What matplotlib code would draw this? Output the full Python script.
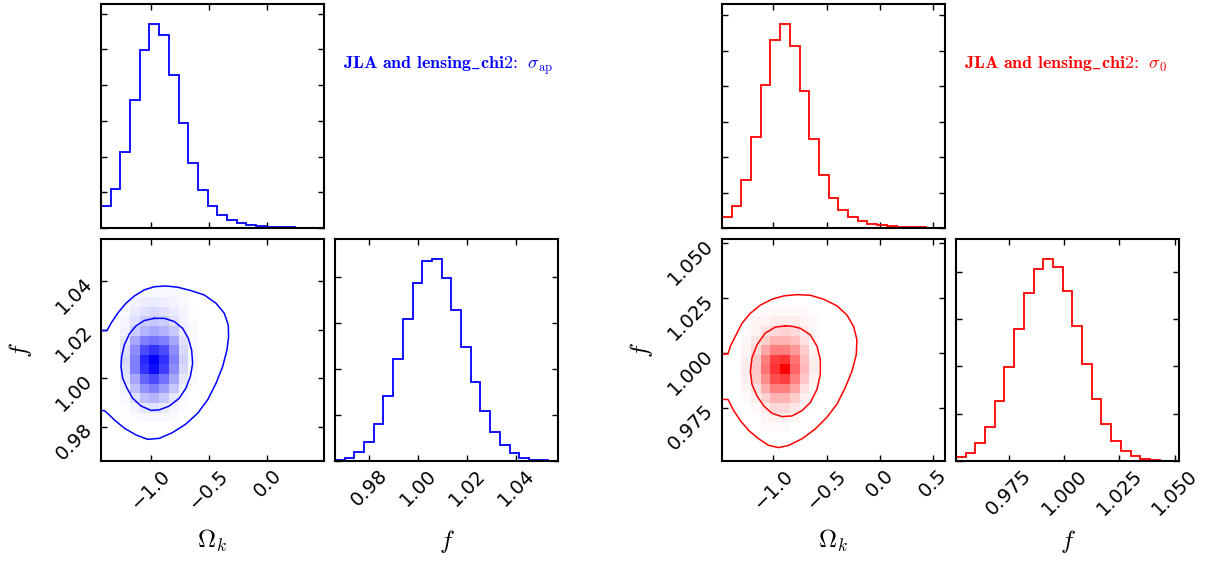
import numpy as np
import matplotlib.pyplot as plt
from matplotlib.colors import LinearSegmentedColormap
from matplotlib.ticker import MultipleLocator, NullFormatter

plt.rcParams['mathtext.fontset'] = 'cm'
plt.rcParams['font.family'] = 'DejaVu Sans'
plt.rcParams['font.size'] = 14

# ---- parameter ranges (23 bins each) ----
NBINS = 23
blue_ok_range = (-1.426, 0.486)
blue_f_range = (0.966, 1.0572)
red_ok_range = (-1.481, 0.610)
red_f_range = (0.951, 1.052)

# ---- 1D marginal counts ----
blue_ok_counts = [304, 551, 1065, 1790, 2486, 2850, 2696, 2136, 1463, 911, 537, 313,
                  187, 112, 70, 42, 23, 14, 9, 7, 6, 5, 4]
blue_f_counts = [29, 72, 196, 413, 804, 1406, 2203, 3080, 3870, 4348, 4377, 3978,
                 3283, 2464, 1710, 1094, 638, 348, 167, 72, 29, 11, 4]
red_ok_counts = [156, 311, 675, 1278, 2019, 2656, 2873, 2561, 1929, 1250, 745, 429,
                 250, 151, 99, 61, 42, 28, 19, 14, 9, 7, 5]
red_f_counts = [85, 169, 373, 725, 1275, 1993, 2796, 3549, 4056, 4261, 4099, 3592,
                2852, 2042, 1317, 782, 423, 211, 99, 42, 14, 7, 4]

# ---- 2D density cells (rows listed top to bottom) ----
# blue block: columns 2..9, rows 17..4 counted from the bottom
blue_col0, blue_row_top = 2, 17
blue_cells = [
    [0.00, 0.02, 0.03, 0.03, 0.03, 0.03, 0.02, 0.00],
    [0.02, 0.05, 0.07, 0.08, 0.07, 0.05, 0.03, 0.00],
    [0.03, 0.08, 0.12, 0.15, 0.12, 0.08, 0.04, 0.01],
    [0.04, 0.12, 0.20, 0.22, 0.20, 0.12, 0.05, 0.02],
    [0.05, 0.20, 0.30, 0.35, 0.30, 0.22, 0.08, 0.02],
    [0.10, 0.35, 0.50, 0.55, 0.50, 0.35, 0.12, 0.03],
    [0.12, 0.45, 0.70, 0.80, 0.70, 0.45, 0.15, 0.03],
    [0.15, 0.50, 0.85, 1.00, 0.80, 0.50, 0.18, 0.04],
    [0.13, 0.50, 0.80, 0.95, 0.75, 0.45, 0.15, 0.03],
    [0.10, 0.35, 0.60, 0.70, 0.55, 0.35, 0.10, 0.02],
    [0.06, 0.25, 0.42, 0.50, 0.38, 0.22, 0.06, 0.01],
    [0.03, 0.12, 0.25, 0.30, 0.22, 0.10, 0.03, 0.00],
    [0.01, 0.05, 0.10, 0.12, 0.08, 0.04, 0.01, 0.00],
    [0.00, 0.02, 0.03, 0.03, 0.03, 0.02, 0.00, 0.00],
]
# red block: columns 2..9, rows 15..3 counted from the bottom
red_col0, red_row_top = 2, 15
red_cells = [
    [0.00, 0.00, 0.03, 0.03, 0.03, 0.03, 0.03, 0.00],
    [0.00, 0.05, 0.05, 0.08, 0.08, 0.08, 0.05, 0.03],
    [0.02, 0.05, 0.12, 0.15, 0.18, 0.15, 0.08, 0.03],
    [0.03, 0.10, 0.20, 0.30, 0.30, 0.25, 0.12, 0.04],
    [0.05, 0.15, 0.35, 0.50, 0.50, 0.40, 0.20, 0.05],
    [0.07, 0.20, 0.50, 0.75, 0.80, 0.55, 0.25, 0.07],
    [0.08, 0.22, 0.55, 0.80, 1.00, 0.60, 0.28, 0.07],
    [0.07, 0.20, 0.45, 0.70, 0.75, 0.50, 0.22, 0.05],
    [0.04, 0.12, 0.32, 0.50, 0.50, 0.35, 0.12, 0.03],
    [0.02, 0.07, 0.18, 0.30, 0.30, 0.20, 0.07, 0.02],
    [0.00, 0.03, 0.08, 0.15, 0.15, 0.10, 0.03, 0.00],
    [0.00, 0.00, 0.04, 0.06, 0.06, 0.04, 0.00, 0.00],
    [0.00, 0.00, 0.02, 0.02, 0.02, 0.00, 0.00, 0.00],
]

# ---- credible-region contours (Omega_k, f) ----
blue_inner_ok = [-0.969, -1.055, -1.126, -1.183, -1.226, -1.249, -1.2545, -1.240, -1.203,
                 -1.155, -1.083, -0.997, -0.926, -0.840, -0.755, -0.698, -0.660, -0.640,
                 -0.649, -0.6775, -0.726, -0.7975, -0.883]
blue_inner_f = [1.0246, 1.0237, 1.0215, 1.0182, 1.0137, 1.0089, 1.0048, 1.0000, 0.9959,
                0.9918, 0.9886, 0.9868, 0.9870, 0.9886, 0.9918, 0.9959, 1.0007, 1.0061,
                1.0116, 1.0164, 1.0205, 1.0233, 1.0246]
blue_outer_ok = [-1.426, -1.3745, -1.340, -1.283, -1.212, -1.140, -1.055, -0.969, -0.869,
                 -0.769, -0.655, -0.540, -0.440, -0.369, -0.335, -0.332, -0.346, -0.383,
                 -0.440, -0.512, -0.5975, -0.698, -0.812, -0.926, -1.026, -1.126, -1.226,
                 -1.312, -1.369, -1.397, -1.426]
blue_outer_f = [1.0196, 1.0196, 1.0226, 1.0267, 1.0308, 1.0338, 1.0363, 1.0376, 1.0379,
                1.0374, 1.0360, 1.0342, 1.0308, 1.0267, 1.0219, 1.0171, 1.0116, 1.0048,
                0.9979, 0.9911, 0.9856, 0.9812, 0.9777, 0.9753, 0.9749, 0.9767, 0.9795,
                0.9829, 0.9856, 0.9867, 0.9867]

red_inner_ok = [-0.887, -0.981, -1.075, -1.153, -1.200, -1.215, -1.200, -1.153, -1.090,
                -1.012, -0.918, -0.825, -0.731, -0.653, -0.590, -0.559, -0.559, -0.590,
                -0.653, -0.747, -0.825]
red_inner_f = [1.0125, 1.0119, 1.0092, 1.0039, 0.9979, 0.9919, 0.9859, 0.9806, 0.9761,
               0.9727, 0.9712, 0.9715, 0.9739, 0.9776, 0.9836, 0.9904, 0.9972, 1.0032,
               1.0084, 1.0114, 1.0123]
red_outer_ok = [-1.481, -1.425, -1.403, -1.356, -1.293, -1.215, -1.122, -1.012, -0.903,
                -0.778, -0.653, -0.528, -0.403, -0.309, -0.247, -0.216, -0.222, -0.262,
                -0.325, -0.403, -0.497, -0.606, -0.731, -0.856, -0.950, -1.043, -1.137,
                -1.231, -1.309, -1.371, -1.418, -1.425, -1.481]
red_outer_f = [0.9997, 0.9997, 1.0032, 1.0077, 1.0137, 1.0182, 1.0219, 1.0246, 1.0261,
               1.0267, 1.0264, 1.0246, 1.0216, 1.0174, 1.0122, 1.0062, 0.9994, 0.9919,
               0.9844, 0.9769, 0.9709, 0.9656, 0.9611, 0.9581, 0.9571, 0.9581, 0.9611,
               0.9649, 0.9694, 0.9739, 0.9784, 0.9790, 0.9790]

W, H = 1208, 561
fig = plt.figure(figsize=(W / 100, H / 100), dpi=100)


def px_axes(l, t, r, b):
    return fig.add_axes([l / W, 1 - b / H, (r - l) / W, (b - t) / H])


def style(ax):
    for s in ax.spines.values():
        s.set_linewidth(1.5)
    ax.tick_params(direction='in', which='both', top=True, right=True,
                   length=4, width=1, labelsize=14)


def marginal(ax, counts, rng, color, step, ticks, show_labels):
    edges = np.linspace(rng[0], rng[1], NBINS + 1)
    ax.hist(edges[:-1], bins=edges, weights=counts, histtype='step',
            color=color, lw=1.3)
    ax.set_xlim(rng)
    ax.set_ylim(0, 1.1 * max(counts))
    ax.yaxis.set_major_locator(MultipleLocator(step))
    ax.yaxis.set_major_formatter(NullFormatter())
    ax.set_xticks(ticks)
    style(ax)
    if not show_labels:
        ax.xaxis.set_major_formatter(NullFormatter())


def corner_pair(x0, ok_rng, f_rng, ok_counts, f_counts, cells, col0, row_top,
                inner, outer, color, ok_ticks, f_ticks, fmt, ok_step, f_step, title):
    cmap = LinearSegmentedColormap.from_list('dens', ['white', color])

    ax_top = px_axes(x0, 4, x0 + 223, 228)
    marginal(ax_top, ok_counts, ok_rng, color, ok_step, ok_ticks, False)

    ax2 = px_axes(x0, 239, x0 + 223, 461)
    ok_edges = np.linspace(ok_rng[0], ok_rng[1], NBINS + 1)
    f_edges = np.linspace(f_rng[0], f_rng[1], NBINS + 1)
    dens = np.array(cells)[::-1]
    nr, nc = dens.shape
    r0 = row_top - nr + 1
    ax2.pcolormesh(ok_edges[col0:col0 + nc + 1], f_edges[r0:r0 + nr + 1], dens,
                   cmap=cmap, vmin=0, vmax=1, shading='flat', rasterized=True)
    iok, if_ = inner
    ax2.plot(np.append(iok, iok[0]), np.append(if_, if_[0]), color=color, lw=1.1)
    ax2.plot(outer[0], outer[1], color=color, lw=1.1)
    ax2.set_xlim(ok_rng)
    ax2.set_ylim(f_rng)
    ax2.set_xticks(ok_ticks)
    ax2.set_yticks(f_ticks)
    ax2.set_yticklabels([fmt.format(v) for v in f_ticks])
    ax2.set_xticklabels([('{:.1f}'.format(v)).replace('-', '\u2212') for v in ok_ticks])
    style(ax2)
    for lab in ax2.get_xticklabels():
        lab.set_rotation(45)
    for lab in ax2.get_yticklabels():
        lab.set_rotation(45)
    ax2.set_xlabel(r'$\Omega_k$', fontsize=18)
    ax2.set_ylabel(r'$f$', fontsize=18)
    ax2.xaxis.set_label_coords(0.5, -0.3)
    ax2.yaxis.set_label_coords(-0.3, 0.5)

    ax_f = px_axes(x0 + 234, 239, x0 + 457, 461)
    marginal(ax_f, f_counts, f_rng, color, f_step, f_ticks, True)
    ax_f.set_xticklabels([fmt.format(v) for v in f_ticks])
    for lab in ax_f.get_xticklabels():
        lab.set_rotation(45)
    ax_f.set_xlabel(r'$f$', fontsize=18)
    ax_f.xaxis.set_label_coords(0.5, -0.3)

    fig.text((x0 + 242) / W, 1 - 69 / H, title, color=color, fontsize=13,
             ha='left', va='baseline')


# the colon is a relation symbol in mathtext, so its automatic padding is cancelled
TITLE_HEAD = r'\mathbf{JLA\ and\ lensing\_chi2}\hspace{-0.2}\mathbf{:}\hspace{-0.2}\ \ '

corner_pair(101, blue_ok_range, blue_f_range, blue_ok_counts, blue_f_counts,
            blue_cells, blue_col0, blue_row_top,
            (blue_inner_ok, blue_inner_f), (blue_outer_ok, blue_outer_f),
            'blue', [-1.0, -0.5, 0.0], [0.98, 1.00, 1.02, 1.04], '{:.2f}', 500, 1000,
            '$' + TITLE_HEAD + r'\sigma_{\rm ap}$')

corner_pair(722, red_ok_range, red_f_range, red_ok_counts, red_f_counts,
            red_cells, red_col0, red_row_top,
            (red_inner_ok, red_inner_f), (red_outer_ok, red_outer_f),
            'red', [-1.0, -0.5, 0.0, 0.5], [0.975, 1.000, 1.025, 1.050], '{:.3f}', 500, 1000,
            '$' + TITLE_HEAD + r'\sigma_0$')

fig.savefig('out.png', dpi=100)
